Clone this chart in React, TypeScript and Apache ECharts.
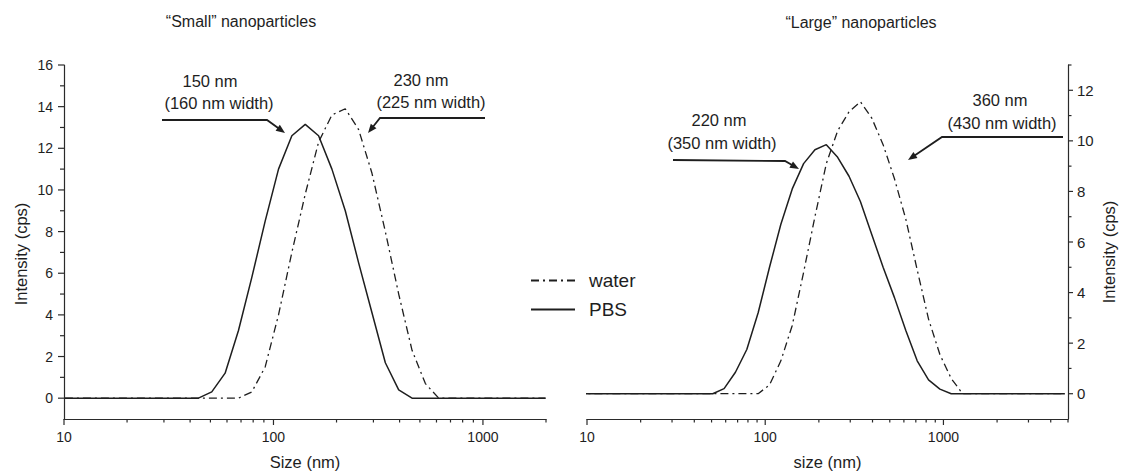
import React, { useEffect, useRef } from 'react';
import * as echarts from 'echarts';

const FONT = '"Liberation Sans", Arial, Helvetica, sans-serif';
const INK = '#1e1e1e';
const AXIS = '#2a2a2a';

// Log-spaced size bins (nm) of the two size distributions
const smallSizes = [10.1, 11.7, 13.54, 15.69, 18.17, 21.04, 24.36, 28.21, 32.67, 37.84, 43.82, 50.75, 58.77, 68.06, 78.82, 91.28, 105.7, 122.4, 141.8, 164.2, 190.1, 220.2, 255.0, 295.3, 342.0, 396.1, 458.7, 531.2, 615.1, 712.4, 825.0, 955.4, 1106, 1281, 1484, 1718, 1990];
const smallPBS = [0, 0, 0, 0, 0, 0, 0, 0, 0, 0, 0, 0.3, 1.2, 3.25, 5.8, 8.5, 11.0, 12.6, 13.15, 12.6, 11.0, 9.0, 6.5, 4.1, 1.7, 0.4, 0, 0, 0, 0, 0, 0, 0, 0, 0, 0, 0];
const smallWater = [0, 0, 0, 0, 0, 0, 0, 0, 0, 0, 0, 0, 0, 0, 0.3, 1.5, 4.0, 7.0, 9.8, 12.3, 13.6, 13.9, 12.9, 10.8, 8.0, 5.0, 2.3, 0.7, 0, 0, 0, 0, 0, 0, 0, 0, 0];

const largeSizes = [8.721, 10.1, 11.7, 13.54, 15.69, 18.17, 21.04, 24.36, 28.21, 32.67, 37.84, 43.82, 50.75, 58.77, 68.06, 78.82, 91.28, 105.7, 122.4, 141.8, 164.2, 190.1, 220.2, 255.0, 295.3, 342.0, 396.1, 458.7, 531.2, 615.1, 712.4, 825.0, 955.4, 1106, 1281, 1484, 1718, 1990, 2305, 2669, 3091, 3580, 4145, 4801];
const largePBS = [0, 0, 0, 0, 0, 0, 0, 0, 0, 0, 0, 0, 0, 0.2, 0.85, 1.75, 3.2, 5.0, 6.7, 8.1, 9.1, 9.65, 9.85, 9.35, 8.6, 7.6, 6.3, 5.0, 3.8, 2.5, 1.3, 0.55, 0.18, 0, 0, 0, 0, 0, 0, 0, 0, 0, 0, 0];
const largeWater = [0, 0, 0, 0, 0, 0, 0, 0, 0, 0, 0, 0, 0, 0, 0, 0, 0, 0.35, 1.3, 2.7, 4.8, 7.0, 9.1, 10.4, 11.15, 11.55, 10.9, 9.85, 8.5, 6.9, 4.9, 2.95, 1.55, 0.6, 0, 0, 0, 0, 0, 0, 0, 0, 0, 0];

// Axis ticks
const xMajorTicks = [10, 100, 1000];
const smallXMinorTicks = [20, 30, 40, 50, 60, 70, 80, 90, 200, 300, 400, 500, 600, 700, 800, 900, 2000];
const largeXMinorTicks = [20, 30, 40, 50, 60, 70, 80, 90, 200, 300, 400, 500, 600, 700, 800, 900, 2000, 3000, 4000, 5000];
const smallYMajorTicks = [0, 2, 4, 6, 8, 10, 12, 14, 16];
const smallYMinorTicks = [1, 3, 5, 7, 9, 11, 13, 15];
const largeYMajorTicks = [0, 2, 4, 6, 8, 10, 12];
const largeYMinorTicks = [1, 3, 5, 7, 9, 11, 13];

const SMALL_X = [10, 2000];
const LARGE_X = [10, 5000];
const SMALL_Y = [-1, 16];
const LARGE_Y = [-1, 13];

const pairs = (xs: number[], ys: number[]) => xs.map((x, i) => [x, ys[i]]);

const waterDash = [8, 4, 2, 4];

function lineSeries(name: string, grid: number, xs: number[], ys: number[], dashed: boolean) {
  return {
    type: 'line',
    name,
    xAxisIndex: grid,
    yAxisIndex: grid,
    data: pairs(xs, ys),
    symbol: 'none',
    clip: false,
    smooth: false,
    z: 3,
    lineStyle: { color: INK, width: dashed ? 1.3 : 1.5, type: dashed ? waterDash : 'solid' },
    itemStyle: { color: INK },
  };
}

// Tick marks placed through the axes' own scales: thin rectangles hanging off the axis line
function xTicks(grid: number, values: number[], yBase: number, len: number) {
  return {
    type: 'scatter',
    name: 'xticks' + grid + '_' + len,
    xAxisIndex: grid,
    yAxisIndex: grid,
    clip: false,
    silent: true,
    z: 5,
    data: values.map((v) => [v, yBase]),
    symbol: 'rect',
    symbolSize: [1.2, len],
    symbolOffset: [0, len / 2],
    itemStyle: { color: AXIS, opacity: 1 },
  };
}

function yTicks(grid: number, values: number[], xBase: number, len: number) {
  return {
    type: 'scatter',
    name: 'yticks' + grid + '_' + len,
    xAxisIndex: grid,
    yAxisIndex: grid,
    clip: false,
    silent: true,
    z: 5,
    data: values.map((v) => [xBase, v]),
    symbol: 'rect',
    symbolSize: [Math.abs(len), 1.2],
    symbolOffset: [len / 2, 0],
    itemStyle: { color: AXIS, opacity: 1 },
  };
}

const powerLabel = (v: number) => {
  const l = Math.log10(v);
  return Math.abs(l - Math.round(l)) < 1e-6 ? String(Math.round(v)) : '';
};
const evenLabel = (v: number) => (v >= 0 && Math.abs(v % 2) < 1e-9 ? String(v) : '');

function arrow(points: number[][]) {
  const a = points[points.length - 2];
  const b = points[points.length - 1];
  const dx = b[0] - a[0];
  const dy = b[1] - a[1];
  const L = Math.hypot(dx, dy);
  const ux = dx / L;
  const uy = dy / L;
  const len = 9;
  const hw = 3.6;
  const bx = b[0] - ux * len;
  const by = b[1] - uy * len;
  const head = [
    [b[0], b[1]],
    [bx - uy * hw, by + ux * hw],
    [bx + uy * hw, by - ux * hw],
  ];
  const shaft = points.slice(0, -1).concat([[bx + ux, by + uy]]);
  return [
    { type: 'polyline', shape: { points: shaft }, style: { stroke: INK, lineWidth: 1.8, fill: null }, z: 10 },
    { type: 'polygon', shape: { points: head }, style: { fill: INK }, z: 10 },
  ];
}

function label(text: string, x: number, y: number, size: number, rotation = 0) {
  return {
    type: 'text',
    x,
    y,
    rotation,
    z: 10,
    style: { text, fill: INK, font: `${size}px ${FONT}`, align: 'center', verticalAlign: 'middle' },
  };
}

const axisLineStyle = { show: true, onZero: false, lineStyle: { color: AXIS, width: 1.2 } };
const tickLabel = (size: number, margin: number, formatter: any) => ({
  color: INK,
  fontSize: size,
  fontFamily: FONT,
  margin,
  formatter,
});

const option: any = {
  animation: false,
  backgroundColor: '#fff',
  textStyle: { fontFamily: FONT },
  grid: [
    { left: 64, top: 65, width: 482, height: 359 },
    { left: 587, top: 65, width: 481, height: 359 },
  ],
  xAxis: [
    {
      type: 'log',
      logBase: 10,
      gridIndex: 0,
      min: SMALL_X[0],
      max: SMALL_X[1],
      position: 'bottom',
      axisLine: axisLineStyle,
      axisTick: { show: false },
      splitLine: { show: false },
      axisLabel: tickLabel(14, 11, powerLabel),
      name: 'Size (nm)',
      nameLocation: 'middle',
      nameGap: 34,
      nameTextStyle: { color: INK, fontSize: 16.5, fontFamily: FONT },
    },
    {
      type: 'log',
      logBase: 10,
      gridIndex: 1,
      min: LARGE_X[0],
      max: LARGE_X[1],
      position: 'bottom',
      axisLine: axisLineStyle,
      axisTick: { show: false },
      splitLine: { show: false },
      axisLabel: tickLabel(14, 11, powerLabel),
      name: 'size (nm)',
      nameLocation: 'middle',
      nameGap: 34,
      nameTextStyle: { color: INK, fontSize: 16.5, fontFamily: FONT },
    },
  ],
  yAxis: [
    {
      type: 'value',
      gridIndex: 0,
      min: SMALL_Y[0],
      max: SMALL_Y[1],
      interval: 1,
      position: 'left',
      axisLine: axisLineStyle,
      axisTick: { show: false },
      splitLine: { show: false },
      axisLabel: tickLabel(14, 11, evenLabel),
    },
    {
      type: 'value',
      gridIndex: 1,
      min: LARGE_Y[0],
      max: LARGE_Y[1],
      interval: 1,
      position: 'right',
      axisLine: axisLineStyle,
      axisTick: { show: false },
      splitLine: { show: false },
      axisLabel: tickLabel(15, 9, evenLabel),
    },
  ],
  legend: {
    data: ['water', 'PBS'],
    orient: 'vertical',
    left: 525,
    top: 266,
    itemWidth: 44,
    itemHeight: 19,
    itemGap: 10,
    selectedMode: false,
    itemStyle: { color: 'rgba(0,0,0,0)', borderColor: 'rgba(0,0,0,0)', borderWidth: 0, opacity: 0 },
    textStyle: { color: INK, fontSize: 19, fontFamily: FONT, padding: [0, 0, 0, 9] },
  },
  series: [
    lineSeries('water', 0, smallSizes, smallWater, true),
    lineSeries('PBS', 0, smallSizes, smallPBS, false),
    lineSeries('water', 1, largeSizes, largeWater, true),
    lineSeries('PBS', 1, largeSizes, largePBS, false),
    xTicks(0, xMajorTicks, SMALL_Y[0], 6),
    xTicks(0, smallXMinorTicks, SMALL_Y[0], 3.5),
    xTicks(1, xMajorTicks, LARGE_Y[0], 6),
    xTicks(1, largeXMinorTicks, LARGE_Y[0], 3.5),
    yTicks(0, smallYMajorTicks, SMALL_X[0], -6),
    yTicks(0, smallYMinorTicks, SMALL_X[0], -4),
    yTicks(1, largeYMajorTicks, LARGE_X[1], 5),
    yTicks(1, largeYMinorTicks, LARGE_X[1], 3.5),
  ],
  graphic: [
    label('\u201CSmall\u201D nanoparticles', 241, 21, 16),
    label('\u201CLarge\u201D nanoparticles', 861, 22, 16),
    label('Intensity (cps)', 21, 254, 16.5, Math.PI / 2),
    label('Intensity (cps)', 1109, 252, 16.5, Math.PI / 2),
    label('150 nm', 210, 81, 16.5),
    label('(160 nm width)', 219, 103, 16.5),
    label('230 nm', 421, 80, 16.5),
    label('(225 nm width)', 431, 102, 16.5),
    label('220 nm', 719, 120, 16.5),
    label('(350 nm width)', 722, 143, 16.5),
    label('360 nm', 1000, 100, 16.5),
    label('(430 nm width)', 1002, 123, 16.5),
    ...arrow([[162, 120], [267, 120], [285, 133]]),
    ...arrow([[485, 118], [380, 118], [368, 133]]),
    ...arrow([[673, 160], [785, 161], [799, 169]]),
    ...arrow([[1063, 137], [942, 137], [908, 160]]),
  ],
};

export default function App() {
  const ref = useRef<HTMLDivElement>(null);
  useEffect(() => {
    if (!ref.current) return;
    const chart = echarts.init(ref.current, null, { renderer: 'svg' });
    chart.setOption(option);
    return () => chart.dispose();
  }, []);
  return (
    <div
      ref={ref}
      style={{ position: 'fixed', left: 0, top: 0, width: 1121, height: 475, background: '#fff' }}
    />
  );
}
